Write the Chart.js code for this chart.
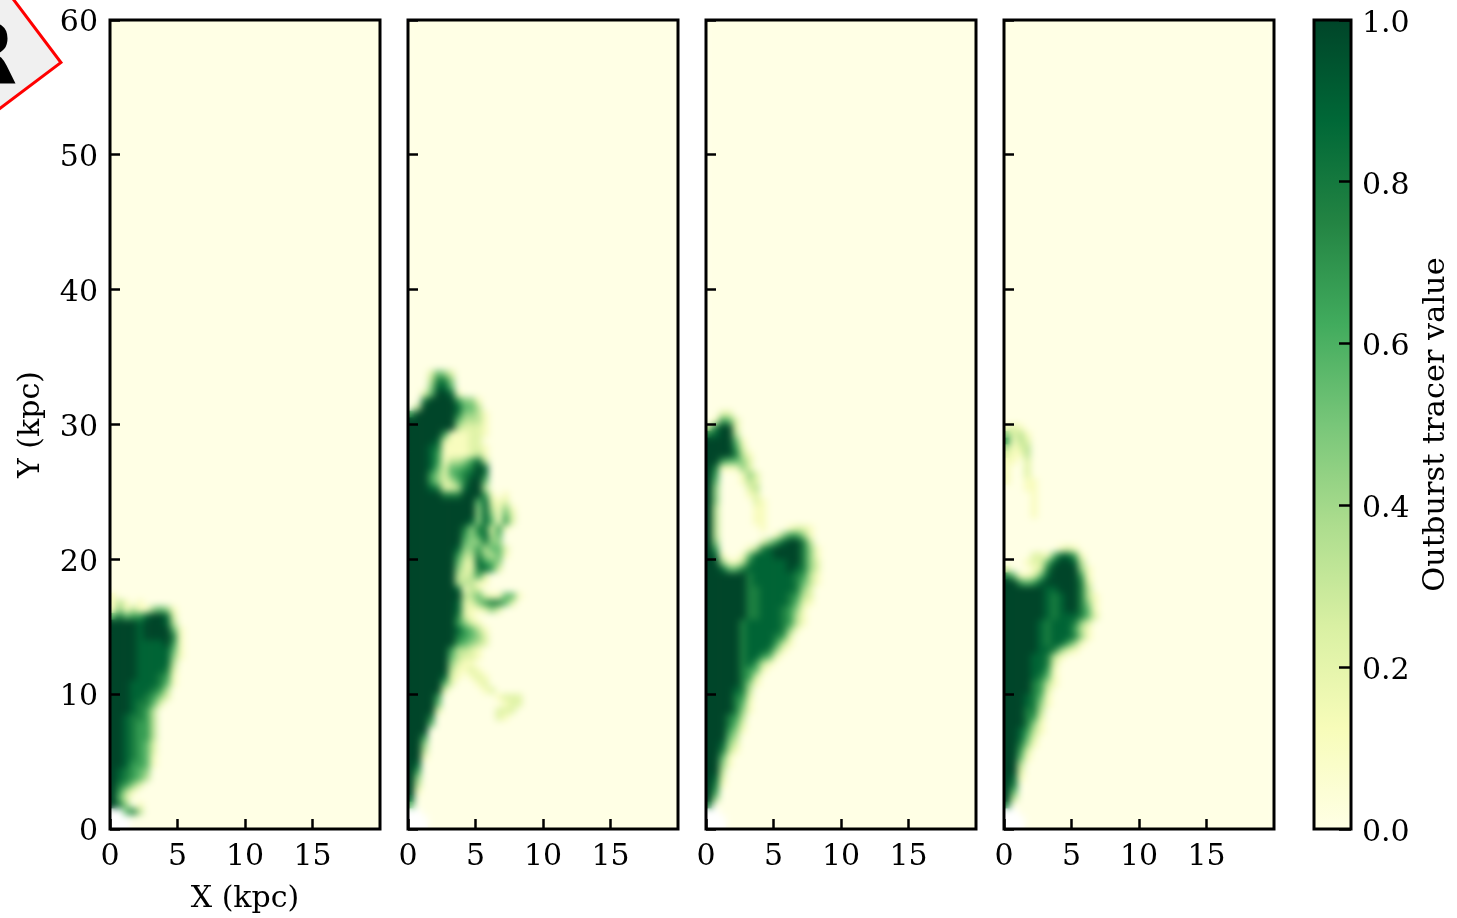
<!DOCTYPE html>
<html>
<head>
  <title>Outburst tracer</title>
  <script src="https://cdn.jsdelivr.net/npm/chart.js"></script>
  <style>
    body { margin: 0; background: #fff; overflow: hidden; }
    canvas { position: absolute; top: 0; }
    /* stamp cut off by the top left corner */
    #stamp { position: absolute; left: -117px; top: -27px; width: 150px; height: 150px; box-sizing: border-box;
      border: 3.5px solid #f00; background: #f0f0f0; transform: rotate(53deg); }
    #stampLetter { position: absolute; left: -49px; top: 11px; font: bold 86px "DejaVu Sans"; color: #000; line-height: 1; }
    #page { position: absolute; left: 0; top: 0; width: 1457px; height: 918px; overflow: hidden; }
  </style>
</head>
<body>
<div id="page">
  <div id="stamp"></div>
  <div id="stampLetter">R</div>
</div>
<script>
// tick labels
const xTicks = [0, 5, 10, 15];
const yTicks = [0, 10, 20, 30, 40, 50, 60];
const cbarTicks = [0, 0.2, 0.4, 0.6, 0.8, 1];

// YlGn colormap
const cmapColors = ['#ffffe5', '#f7fcb9', '#d9f0a3', '#addd8e', '#78c679', '#41ab5d', '#238443', '#006837', '#004529'];

// Tracer, 0.5 kpc cells, top row first, bottom row ends at Y=0.
// digit = tracer * 9, '.' = no data (white), anything past the end of a row is 0
const panel1Rows = [
  "100000000000",
  "131010000000",
  "141311454100",
  "575668998200",
  "999989998300",
  "999989999510",
  "999989999710",
  "999988889610",
  "999988888510",
  "999988888410",
  "999988888300",
  "999988887200",
  "999988876100",
  "999888875100",
  "999888763000",
  "999887642000",
  "999877520000",
  "999876300000",
  "998776300000",
  "998766300000",
  "998766300000",
  "998766300000",
  "998765200000",
  "998765200000",
  "998765100000",
  "998665100000",
  "987654000000",
  "987653000000",
  "976420000000",
  "963100000000",
  "952000000000",
  "974010000000",
  "..5730000000",
  "...000000000",
  "...000000000"
];

const panel2Rows = [
  "00025420000000000000",
  "00037740000000000000",
  "00048850000000000000",
  "00259981000000000000",
  "00799996441000000000",
  "03999998553000000000",
  "69999997443100000000",
  "99999995333100000000",
  "99999993222100000000",
  "99999611122100000000",
  "99998211122000000000",
  "99987111122100000000",
  "99986111123100000000",
  "99986133468300000000",
  "99985255679800000000",
  "99964256789700000000",
  "99964235799500000000",
  "99987223899300000000",
  "99999777999610100000",
  "99999999995821200000",
  "99999999994831410000",
  "99999999994841520000",
  "99999999984851620000",
  "99999999747726100000",
  "99999999646835000000",
  "99999999544744000000",
  "99999998446355200000",
  "99999996337435100000",
  "99999995228654000000",
  "99999994227862000000",
  "99999993236200000000",
  "99999993331100000000",
  "99999998132000000000",
  "99999999335211551000",
  "99999998224677520000",
  "99999998211242000000",
  "99999997210000000000",
  "99999996421000000000",
  "99999998653100000000",
  "99999997654200000000",
  "99999996543200000000",
  "99999963321000000000",
  "99999953221000000000",
  "99999942110000000000",
  "99999931121000000000",
  "99999821012100000000",
  "99999520001200000000",
  "99999200000120000000",
  "99996000000001222000",
  "99995000000000122000",
  "99992000000002220000",
  "99970000000002100000",
  "99950000000000000000",
  "99900000000000000000",
  "99600000000000000000",
  "99400000000000000000",
  "99300000000000000000",
  "99100000000000000000",
  "98000000000000000000",
  "96000000000000000000",
  "94000000000000000000",
  "93000000000000000000",
  "91000000000000000000",
  "80000000000000000000",
  "50000000000000000000",
  "..000000000000000000",
  "...00000000000000000",
  "...00000000000000000"
];

const panel3Rows = [
  "00220000000000000000",
  "01652000000000000000",
  "37992000000000000000",
  "78993000000000000000",
  "99995100000000000000",
  "99996200000000000000",
  "99997310000000000000",
  "99655420000000000000",
  "97111420000000000000",
  "96000142000000000000",
  "95000132000000000000",
  "94000023000000000000",
  "94000012000000000000",
  "94000002100000000000",
  "93000001100000000000",
  "93000001100000000000",
  "93000001100000000000",
  "93000000100012210000",
  "93000000001466410000",
  "94000000246899730000",
  "96000013789999741000",
  "98100158889999741000",
  "99411378888899742000",
  "99855788888898742000",
  "99999978888887631000",
  "99999978888887531000",
  "99999977888887420000",
  "99999977888876320000",
  "99999977888875210000",
  "99999977888764100000",
  "99999977888763100000",
  "99999788888763100000",
  "99999788888741000000",
  "99999788887620000000",
  "99999788886310000000",
  "999997888741",
  "99999788651",
  "9999978631",
  "999997651",
  "99999762",
  "99999741",
  "99998730",
  "99997620",
  "99997510",
  "99997410",
  "99976300",
  "99975200",
  "99964100",
  "99953000",
  "99842000",
  "99731000",
  "99510000",
  "99410000",
  "99300000",
  "98200000",
  "97100000",
  "96000000",
  "94000000",
  "70000000",
  "..000000",
  "...00000",
  "...00000"
];

const panel4Rows = [
  "12100000",
  "42310000",
  "61320000",
  "31230000",
  "21130000",
  "11020000",
  "10020000",
  "10020000",
  "10011000",
  "00011000",
  "00001000",
  "00001000",
  "00001000",
  "00001000",
  "00000000",
  "00000000",
  "00000000",
  "00000000",
  "00000000121",
  "000022158861",
  "000122589983",
  "2000127999941",
  "7511258999961",
  "9965689999972",
  "9999998899973",
  "99999987899731",
  "99999987899741",
  "99999987899751",
  "99999987888752",
  "9999987888742",
  "99999878886310",
  "9999987888741",
  "999998788641",
  "99999887421",
  "999988731",
  "99998872",
  "99998861",
  "99998751",
  "99997631",
  "9999762",
  "9998751",
  "9998741",
  "999773",
  "999762",
  "999741",
  "998631",
  "99852",
  "99741",
  "9962",
  "9951",
  "993",
  "992",
  "981",
  "97",
  "95",
  "93",
  "70",
  "..",
  "...",
  "..."
];

const CELL = 0.5;
const SOFTEN = 'blur(3.5px)';

function colorAt(v) {
  if (v === null) return '#ffffff';
  const pos = v * (cmapColors.length - 1);
  const i = Math.min(Math.floor(pos), cmapColors.length - 2);
  const t = pos - i;
  const a = cmapColors[i], b = cmapColors[i + 1];
  const ch = k => {
    const p = parseInt(a.substr(k, 2), 16), q = parseInt(b.substr(k, 2), 16);
    return Math.round(p + (q - p) * t);
  };
  return `rgb(${ch(1)},${ch(3)},${ch(5)})`;
}

function makeCells(rows) {
  const cells = [];
  rows.forEach((row, r) => {
    for (let c = 0; c < row.length; c++) {
      cells.push({
        x: (c + 0.5) * CELL,
        y: (rows.length - 1 - r + 0.5) * CELL,
        v: row[c] === '.' ? null : Number(row[c]) / 9
      });
    }
  });
  return cells;
}

// labels must not push the plot area around
function noScalePadding(scale) {
  scale.paddingTop = 0;
  scale.paddingBottom = 0;
  scale.paddingLeft = 0;
  scale.paddingRight = 0;
}

// frame all round, plus the field background under the cells
const panelPlugin = {
  id: 'panelPlugin',
  beforeDatasetsDraw(chart) {
    const a = chart.chartArea, ctx = chart.ctx;
    ctx.save();
    ctx.fillStyle = cmapColors[0];
    ctx.fillRect(a.left, a.top, a.width, a.height);
    ctx.restore();
  },
  afterDatasetsDraw(chart) {
    // soften the cells so the field looks continuous
    const a = chart.chartArea, ctx = chart.ctx;
    ctx.save();
    ctx.beginPath();
    ctx.rect(a.left, a.top, a.width, a.height);
    ctx.clip();
    ctx.filter = SOFTEN;
    ctx.drawImage(chart.canvas, a.left, a.top, a.width, a.height, a.left, a.top, a.width, a.height);
    ctx.restore();
  },
  afterDraw(chart) {
    const a = chart.chartArea, ctx = chart.ctx;
    ctx.save();
    ctx.strokeStyle = '#000';
    ctx.lineWidth = 3;
    ctx.strokeRect(a.left, a.top, a.width, a.height);
    ctx.restore();
  }
};

Chart.defaults.font.family = '"DejaVu Serif"';
Chart.defaults.font.size = 30;
Chart.defaults.color = '#000';

function addCanvas(left, width) {
  const canvas = document.createElement('canvas');
  canvas.width = width;
  canvas.height = 918;
  canvas.style.left = left + 'px';
  canvas.style.width = width + 'px';
  canvas.style.height = '918px';
  document.getElementById('page').appendChild(canvas);
  return canvas;
}

function addPanel(rows, plotLeft, labelled) {
  const leftW = labelled ? 110 : 20;
  const canvas = addCanvas(plotLeft - leftW, leftW + 270 + 10);
  new Chart(canvas, {
    type: 'scatter',
    data: {
      datasets: [{
        data: makeCells(rows),
        pointStyle: 'rect',
        borderWidth: 0,
        backgroundColor: ctx => colorAt(ctx.raw.v),
        radius: ctx => {
          const sc = ctx.chart.scales.x;
          return (sc.getPixelForValue(CELL) - sc.getPixelForValue(0) + 0.7) * Math.SQRT1_2;
        }
      }]
    },
    options: {
      responsive: false,
      animation: false,
      events: [],
      layout: { padding: { top: 20, right: 10 } },
      plugins: { legend: { display: false }, tooltip: { enabled: false } },
      scales: {
        x: {
          type: 'linear',
          min: 0,
          max: 20,
          afterBuildTicks: scale => { scale.ticks = xTicks.map(value => ({ value })); },
          afterFit: scale => { scale.height = 89; noScalePadding(scale); },
          grid: { z: 1, drawOnChartArea: false, tickLength: -10, tickWidth: 2.5, tickColor: '#000' },
          border: { display: false },
          ticks: { padding: 20, autoSkip: false, maxRotation: 0 },
          title: { display: labelled, text: 'X (kpc)', padding: { top: 0, bottom: 1 }, font: { size: 30 } }
        },
        y: {
          type: 'linear',
          min: 0,
          max: 60,
          afterBuildTicks: scale => { scale.ticks = yTicks.map(value => ({ value })); },
          afterFit: scale => { scale.width = leftW; noScalePadding(scale); },
          grid: { z: 1, drawOnChartArea: false, tickLength: -10, tickWidth: 2.5, tickColor: '#000' },
          border: { display: false },
          ticks: { display: labelled, padding: 22, labelOffset: 3.5, autoSkip: false },
          title: { display: labelled, text: 'Y (kpc)', padding: { top: 13, bottom: 0 }, font: { size: 30 } }
        }
      }
    },
    plugins: [panelPlugin]
  });
}

addPanel(panel1Rows, 110, true);
addPanel(panel2Rows, 408, false);
addPanel(panel3Rows, 706, false);
addPanel(panel4Rows, 1004, false);

// colorbar
const cbarLabelPlugin = {
  id: 'cbarLabelPlugin',
  afterDraw(chart) {
    const a = chart.chartArea, ctx = chart.ctx;
    ctx.save();
    ctx.strokeStyle = '#000';
    ctx.lineWidth = 3;
    ctx.strokeRect(a.left, a.top, a.width, a.height);
    ctx.translate(1436 - 1304, (a.top + a.bottom) / 2);
    ctx.rotate(-Math.PI / 2);
    ctx.textAlign = 'center';
    ctx.textBaseline = 'middle';
    ctx.fillStyle = '#000';
    ctx.font = '30.4px "DejaVu Serif"';
    ctx.fillText('Outburst tracer value', 0, 0);
    ctx.restore();
  }
};

new Chart(addCanvas(1304, 153), {
  type: 'bar',
  data: {
    labels: ['tracer'],
    datasets: [{
      data: [1],
      barPercentage: 1,
      categoryPercentage: 1,
      backgroundColor: ctx => {
        const a = ctx.chart.chartArea;
        if (!a) return cmapColors[8];
        const g = ctx.chart.ctx.createLinearGradient(0, a.bottom, 0, a.top);
        cmapColors.forEach((c, i) => g.addColorStop(i / (cmapColors.length - 1), c));
        return g;
      }
    }]
  },
  options: {
    responsive: false,
    animation: false,
    events: [],
    layout: { padding: { top: 20, left: 10, bottom: 89 } },
    plugins: { legend: { display: false }, tooltip: { enabled: false } },
    scales: {
      x: { display: false },
      y: {
        position: 'right',
        min: 0,
        max: 1,
        afterBuildTicks: scale => { scale.ticks = cbarTicks.map(value => ({ value })); },
        afterFit: scale => { scale.width = 106; noScalePadding(scale); },
        grid: { z: 1, drawOnChartArea: false, tickLength: -12, tickWidth: 2.5, tickColor: '#000' },
        border: { display: false },
        ticks: { padding: 23, labelOffset: 4, autoSkip: false, callback: v => v.toFixed(1) }
      }
    }
  },
  plugins: [cbarLabelPlugin]
});
</script>
</body>
</html>
